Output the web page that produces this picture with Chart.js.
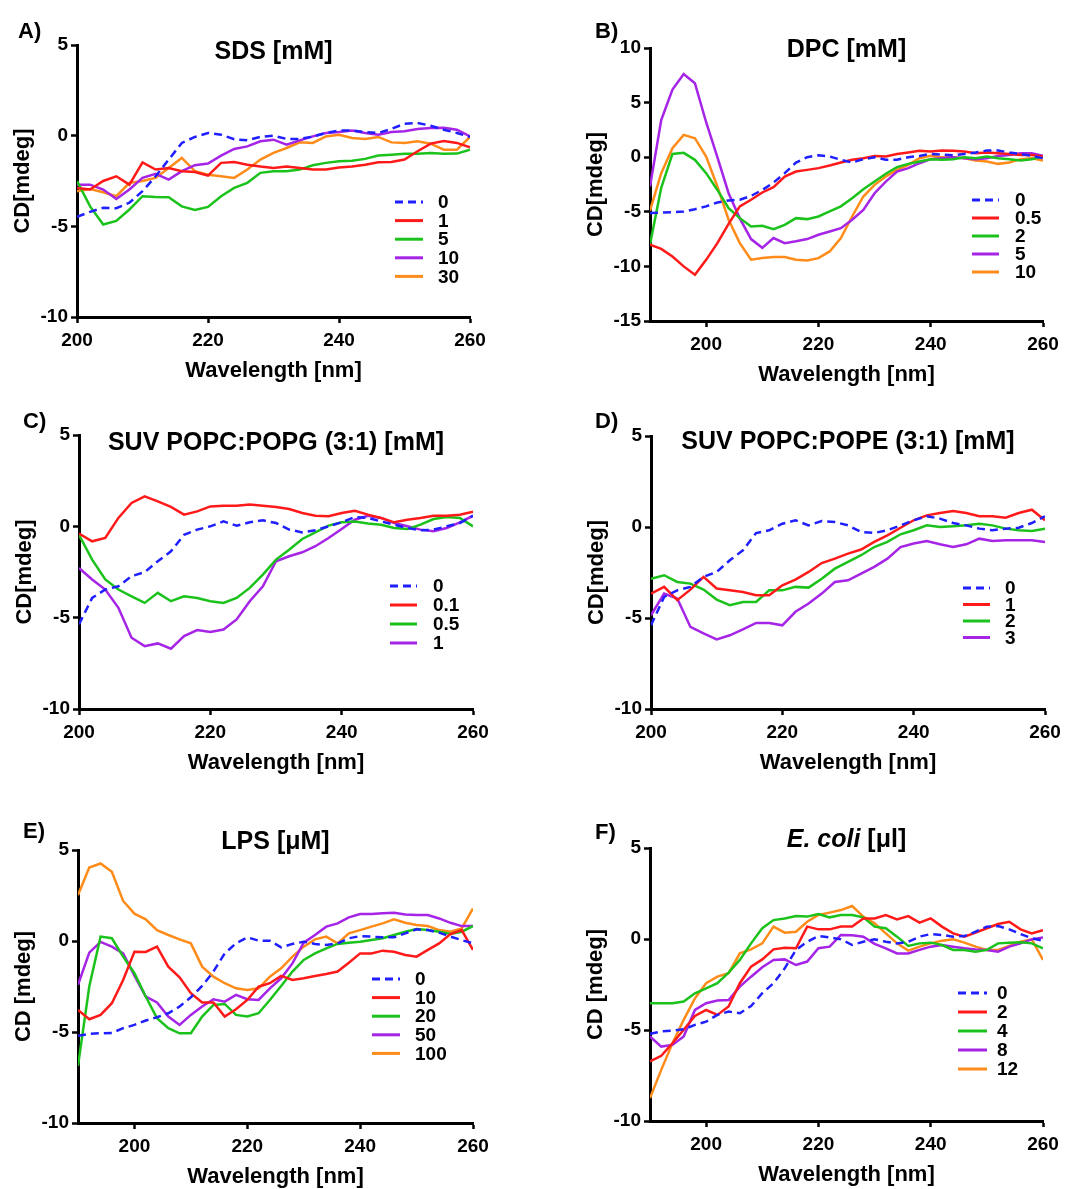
<!DOCTYPE html>
<html>
<head>
<meta charset="utf-8">
<script src="https://cdn.jsdelivr.net/npm/chart.js@4.4.1/dist/chart.umd.min.js"></script>
<style>
  body { margin: 0; background: #fff; }
  #wrap { position: relative; width: 1083px; height: 1189px; }
  canvas { position: absolute; }
</style>
</head>
<body>
<div id="wrap">
  <canvas id="cA" width="540" height="390" style="left:0;top:0"></canvas>
  <canvas id="cB" width="543" height="390" style="left:540px;top:0"></canvas>
  <canvas id="cC" width="540" height="390" style="left:0;top:390px"></canvas>
  <canvas id="cD" width="543" height="390" style="left:540px;top:390px"></canvas>
  <canvas id="cE" width="540" height="409" style="left:0;top:780px"></canvas>
  <canvas id="cF" width="543" height="409" style="left:540px;top:780px"></canvas>
</div>
<script>
// wavelengths (nm)
const wl200 = [200, 202, 204, 206, 208, 210, 212, 214, 216, 218, 220, 222, 224, 226, 228, 230,
  232, 234, 236, 238, 240, 242, 244, 246, 248, 250, 252, 254, 256, 258, 260];
const wl190 = [190, 192, 194, 196, 198, 200, 202, 204, 206, 208, 210, 212, 214, 216, 218, 220, 222, 224, 226, 228, 230,
  232, 234, 236, 238, 240, 242, 244, 246, 248, 250, 252, 254, 256, 258, 260];

const xTicks = [200, 220, 240, 260];
const yTicks = [-10, -5, 0, 5];
const yTicksDPC = [-15, -10, -5, 0, 5, 10];

// A) SDS [mM]
const sdsLabels = ['0', '1', '5', '10', '30'];
const sds0 = [-4.48, -4.2, -3.98, -4.0, -3.7, -3.06, -2.24, -1.32, -0.4, -0.07, 0.15, 0.05, -0.2, -0.25, -0.07, 0,
  -0.18, -0.18, -0.05, 0.15, 0.28, 0.28, 0.2, 0.15, 0.37, 0.66, 0.7, 0.55, 0.33, 0.15, -0.07];
const sds1 = [-2.88, -2.97, -2.5, -2.24, -2.7, -1.47, -1.87, -1.78, -1.96, -2.0, -2.2, -1.5, -1.45, -1.6, -1.7, -1.78,
  -1.7, -1.78, -1.87, -1.87, -1.75, -1.7, -1.6, -1.47, -1.45, -1.32, -0.86, -0.44, -0.3, -0.4, -0.64];
const sds5 = [-2.5, -3.9, -4.9, -4.7, -4.07, -3.34, -3.38, -3.4, -3.9, -4.1, -3.93, -3.34, -2.88, -2.6, -2.05, -1.96,
  -1.96, -1.87, -1.63, -1.5, -1.41, -1.38, -1.28, -1.1, -1.05, -1.0, -1.0, -0.95, -1.0, -0.99, -0.77];
const sds10 = [-2.7, -2.7, -2.97, -3.49, -2.97, -2.33, -2.1, -2.42, -1.96, -1.63, -1.54, -1.1, -0.73, -0.59, -0.31, -0.22,
  -0.5, -0.26, -0.04, 0.15, 0.2, 0.28, 0.15, 0.05, 0.2, 0.24, 0.37, 0.42, 0.44, 0.33, -0.04];
const sds30 = [-3.06, -2.94, -3.12, -3.34, -2.6, -2.5, -2.33, -1.78, -1.23, -1.96, -2.15, -2.24, -2.33, -1.87, -1.32, -0.95,
  -0.68, -0.37, -0.4, -0.04, 0.05, -0.13, -0.18, -0.07, -0.37, -0.4, -0.31, -0.44, -0.77, -0.77, -0.07];

// B) DPC [mM]
const dpcLabels = ['0', '0.5', '2', '5', '10'];
const dpc0 = [-5.12, -5.07, -5.03, -4.97, -4.76, -4.5, -4.15, -3.96, -3.9, -3.54, -3.0, -2.32, -1.46, -0.49, 0, 0.18,
  0.06, -0.24, -0.49, -0.18, 0, -0.24, -0.24, 0, 0.12, 0.3, 0.24, 0.18, 0.3, 0.43, 0.61, 0.61, 0.43, 0.3, 0.12, -0.09];
const dpc05 = [-8.0, -8.4, -9.1, -10.0, -10.76, -9.4, -7.87, -6.1, -4.5, -3.9, -3.23, -2.74, -1.77, -1.31, -1.16, -1.0,
  -0.76, -0.49, -0.24, -0.09, 0.12, 0.06, 0.3, 0.43, 0.58, 0.52, 0.61, 0.6, 0.52, 0.37, 0.43, 0.37, 0.3, 0.21, 0.21, 0.06];
const dpc2 = [-8.0, -2.8, 0.3, 0.4, -0.24, -1.46, -3.0, -4.66, -5.58, -6.34, -6.28, -6.6, -6.19, -5.58, -5.67, -5.43,
  -4.97, -4.5, -3.75, -2.93, -2.23, -1.52, -0.91, -0.61, -0.4, -0.18, -0.24, -0.18, 0, -0.09, 0.06, -0.09, -0.18, -0.3, -0.18, 0.06];
const dpc5 = [-2.68, 3.4, 6.2, 7.62, 6.77, 3.2, 0.0, -3.3, -5.6, -7.5, -8.3, -7.4, -7.87, -7.7, -7.5, -7.1,
  -6.8, -6.5, -5.73, -4.82, -3.3, -2.23, -1.31, -1.0, -0.55, -0.18, -0.09, 0, -0.09, -0.18, -0.09, 0.12, 0.21, 0.37, 0.37, 0.12];
const dpc10 = [-4.9, -1.46, 0.82, 2.04, 1.74, 0.06, -2.68, -5.73, -7.87, -9.39, -9.24, -9.15, -9.15, -9.39, -9.45, -9.24,
  -8.63, -7.4, -5.43, -3.6, -2.53, -1.77, -1.16, -0.7, -0.09, 0.12, 0, 0, -0.09, -0.3, -0.4, -0.61, -0.49, -0.18, -0.09, -0.3];

// C) SUV POPC:POPG (3:1) [mM]
const popgLabels = ['0', '0.1', '0.5', '1'];
const popg0 = [-5.37, -3.92, -3.46, -3.28, -2.73, -2.51, -1.91, -1.37, -0.46, -0.18, 0, 0.27, 0.04, 0.22, 0.33, 0.18,
  -0.18, -0.33, -0.22, 0, 0.22, 0.51, 0.46, 0.27, 0.09, -0.09, -0.22, -0.18, 0, 0.18, 0.58];
const popg01 = [-0.4, -0.82, -0.64, 0.46, 1.28, 1.64, 1.37, 1.06, 0.64, 0.82, 1.09, 1.13, 1.13, 1.2, 1.13, 1.06,
  0.95, 0.73, 0.58, 0.55, 0.73, 0.85, 0.64, 0.46, 0.22, 0.36, 0.46, 0.58, 0.58, 0.64, 0.8];
const popg05 = [-0.46, -1.82, -2.91, -3.46, -3.83, -4.19, -3.64, -4.1, -3.83, -3.92, -4.1, -4.19, -3.92, -3.37, -2.64, -1.82,
  -1.28, -0.69, -0.33, 0.04, 0.22, 0.26, 0.15, 0.09, -0.09, -0.15, 0.09, 0.4, 0.51, 0.46, 0];
const popg1 = [-2.28, -2.91, -3.46, -4.46, -6.1, -6.56, -6.41, -6.7, -6.01, -5.68, -5.79, -5.65, -5.1, -4.1, -3.28, -1.91,
  -1.64, -1.42, -1.09, -0.64, -0.15, 0.36, 0.58, 0.46, 0.18, 0, -0.18, -0.27, -0.09, 0.22, 0.58];

// D) SUV POPC:POPE (3:1) [mM]
const popeLabels = ['0', '1', '2', '3'];
const pope0 = [-5.4, -3.84, -3.48, -3.29, -2.74, -2.47, -1.83, -1.28, -0.33, -0.18, 0.18, 0.37, 0.09, 0.33, 0.27, 0.09,
  -0.27, -0.33, -0.18, 0.09, 0.37, 0.59, 0.46, 0.22, 0.09, -0.09, -0.18, -0.09, -0.04, 0.22, 0.59];
const pope1 = [-3.66, -3.29, -4.02, -3.44, -2.74, -3.38, -3.48, -3.57, -3.75, -3.75, -3.2, -2.89, -2.47, -1.98, -1.74, -1.46,
  -1.24, -0.82, -0.46, -0.04, 0.37, 0.64, 0.77, 0.88, 0.77, 0.59, 0.59, 0.51, 0.77, 0.95, 0.37];
const pope2 = [-2.84, -2.65, -3.02, -3.11, -3.44, -3.99, -4.3, -4.12, -4.12, -3.48, -3.48, -3.29, -3.33, -2.84, -2.29, -1.92,
  -1.55, -1.1, -0.82, -0.4, -0.18, 0.09, 0, 0.04, 0.09, 0.18, 0.09, -0.09, -0.18, -0.22, -0.09];
const pope3 = [-4.85, -3.66, -3.93, -5.49, -5.85, -6.18, -5.95, -5.63, -5.27, -5.27, -5.4, -4.66, -4.2, -3.66, -3.02, -2.93,
  -2.56, -2.19, -1.74, -1.1, -0.91, -0.77, -0.95, -1.1, -0.95, -0.64, -0.77, -0.73, -0.73, -0.73, -0.82];

// E) LPS [µM]
const lpsLabels = ['0', '10', '20', '50', '100'];
const lps0 = [-5.21, -5.1, -5.07, -5.05, -4.79, -4.61, -4.37, -4.19, -3.97, -3.6, -3.09, -2.47, -1.68, -0.68, -0.13, 0.2,
  0.02, 0.02, -0.35, -0.16, -0.04, -0.16, -0.22, -0.13, 0.15, 0.27, 0.24, 0.2, 0.2, 0.42, 0.64, 0.6, 0.46, 0.24, 0.05, -0.13];
const lps10 = [-3.79, -4.3, -4.06, -3.42, -2.14, -0.59, -0.6, -0.31, -1.41, -1.99, -2.87, -3.38, -3.38, -4.15, -3.75, -3.24,
  -2.51, -2.32, -1.92, -2.14, -2.05, -1.92, -1.81, -1.68, -1.19, -0.68, -0.68, -0.53, -0.59, -0.77, -0.86, -0.49, -0.13, 0.38, 0.6, -0.49];
const lps20 = [-6.86, -2.5, 0.24, 0.15, -0.86, -1.77, -3.05, -4.24, -4.79, -5.07, -5.07, -4.15, -3.51, -3.46, -4.06, -4.15,
  -3.97, -3.24, -2.47, -1.68, -1.04, -0.68, -0.4, -0.16, -0.09, -0.04, 0.05, 0.15, 0.33, 0.51, 0.66, 0.6, 0.51, 0.38, 0.51, 0.82];
const lps50 = [-2.41, -0.64, -0.05, -0.31, -0.68, -1.9, -3.05, -3.38, -4.15, -4.61, -4.06, -3.6, -3.2, -3.33, -2.96, -3.2,
  -3.24, -2.6, -2.05, -1.23, -0.09, 0.33, 0.79, 0.97, 1.3, 1.48, 1.48, 1.52, 1.55, 1.46, 1.43, 1.43, 1.24, 1.0, 0.82, 0.82];
const lps100 = [2.52, 4.04, 4.26, 3.8, 2.2, 1.5, 1.19, 0.6, 0.33, 0.09, -0.13, -1.41, -1.96, -2.32, -2.6, -2.69,
  -2.6, -1.96, -1.5, -0.86, -0.31, 0.09, 0.24, -0.13, 0.42, 0.6, 0.79, 0.97, 1.19, 1.0, 0.88, 0.82, 0.6, 0.51, 0.69, 1.79];

// F) E. coli [µl]
const ecoliLabels = ['0', '2', '4', '8', '12'];
const ecoli0 = [-5.21, -5.08, -5.03, -4.96, -4.72, -4.54, -4.17, -3.99, -4.08, -3.68, -2.98, -2.43, -1.61, -0.6, -0.15, 0.16,
  0.09, -0.02, -0.33, -0.15, -0.02, -0.15, -0.24, -0.15, 0.13, 0.27, 0.22, 0.13, 0.16, 0.4, 0.68, 0.71, 0.53, 0.27, 0.04, -0.09];
const ecoli2 = [-6.73, -6.42, -5.73, -4.99, -4.23, -3.9, -4.17, -3.71, -2.43, -1.52, -1.12, -0.57, -0.48, -0.51, 0.68, 0.53,
  0.53, 0.68, 0.68, 1.13, 1.13, 1.32, 1.08, 1.26, 0.9, 1.13, 0.68, 0.31, 0.13, 0.35, 0.59, 0.82, 0.95, 0.53, 0.31, 0.49];
const ecoli4 = [-3.53, -3.53, -3.53, -3.44, -2.98, -2.71, -2.43, -1.85, -1.15, -0.24, 0.59, 1.04, 1.13, 1.26, 1.23, 1.37,
  1.19, 1.32, 1.32, 1.19, 0.68, 0.59, 0.13, -0.38, -0.24, -0.2, -0.33, -0.6, -0.6, -0.7, -0.6, -0.24, -0.2, -0.18, -0.24, -0.51];
const ecoli8 = [-5.36, -5.91, -5.82, -5.36, -3.9, -3.53, -3.38, -3.35, -2.62, -2.07, -1.55, -1.15, -1.12, -1.43, -1.24, -0.51,
  -0.42, 0.22, 0.2, 0.13, -0.27, -0.51, -0.79, -0.79, -0.6, -0.42, -0.33, -0.42, -0.51, -0.57, -0.6, -0.7, -0.42, -0.24, -0.02, 0.09];
const ecoli12 = [-8.74, -7.19, -5.73, -4.44, -3.26, -2.43, -2.07, -1.88, -0.79, -0.57, -0.24, 0.68, 0.35, 0.4, 0.95, 1.32,
  1.45, 1.59, 1.81, 1.23, 0.86, 0.31, -0.24, -0.64, -0.42, -0.24, -0.09, -0.02, -0.2, -0.42, -0.6, -0.6, -0.38, -0.15, -0.02, -1.15];

const FONT = '"Liberation Sans", Arial, Helvetica, sans-serif';
const COLORS = ['#1f1fff', '#ff1a1a', '#1cc21c', '#a524e6', '#ff8c1a'];
const DASH = [8, 5];

// draws panel letter, title and legend inside each canvas
const decorPlugin = {
  id: 'decor',
  afterDraw(chart) {
    const p = chart.options.plugins.decor;
    const ctx = chart.ctx;
    const area = chart.chartArea;
    ctx.save();
    ctx.fillStyle = '#000';
    ctx.textBaseline = 'middle';

    ctx.font = 'bold 22px ' + FONT;
    ctx.textAlign = 'left';
    ctx.fillText(p.letter, p.letterX, p.letterY);

    // title (parts may be italic)
    let total = 0;
    p.title.forEach(part => {
      ctx.font = (part.italic ? 'italic ' : '') + 'bold 25px ' + FONT;
      total += ctx.measureText(part.text).width;
    });
    let x = (area.left + area.right) / 2 - total / 2;
    p.title.forEach(part => {
      ctx.font = (part.italic ? 'italic ' : '') + 'bold 25px ' + FONT;
      ctx.fillText(part.text, x, p.titleY);
      x += ctx.measureText(part.text).width;
    });

    // legend
    ctx.font = 'bold 19px ' + FONT;
    chart.data.datasets.forEach((ds, i) => {
      const y = p.legY + i * p.legGap;
      ctx.beginPath();
      ctx.strokeStyle = ds.borderColor;
      ctx.lineWidth = 3;
      ctx.setLineDash(ds.borderDash || []);
      ctx.moveTo(p.legX0, y);
      ctx.lineTo(p.legX1, y);
      ctx.stroke();
      ctx.setLineDash([]);
      ctx.fillText(ds.label, p.legText, y + 1);
    });
    ctx.restore();
  }
};

function makePanel(id, cfg) {
  const datasets = cfg.series.map((vals, i) => ({
    label: cfg.labels[i],
    data: vals.map((v, j) => ({ x: cfg.wl[j], y: v })),
    borderColor: COLORS[i],
    borderWidth: 2.5,
    borderDash: i === 0 ? DASH : [],
    pointRadius: 0,
    tension: 0,
    fill: false
  }));
  const axisGrid = { drawOnChartArea: false, tickLength: 6, tickWidth: 2.5, tickColor: '#000' };
  const axisBorder = { display: true, color: '#000', width: 3 };
  new Chart(document.getElementById(id), {
    type: 'line',
    data: { datasets },
    plugins: [decorPlugin],
    options: {
      responsive: false,
      animation: false,
      layout: { padding: cfg.pad },
      plugins: {
        legend: { display: false },
        tooltip: { enabled: false },
        decor: cfg.decor
      },
      scales: {
        x: {
          type: 'linear',
          min: cfg.wl[0],
          max: 260,
          grid: axisGrid,
          border: axisBorder,
          afterBuildTicks: s => { s.ticks = xTicks.map(v => ({ value: v })); },
          afterFit: s => { s.height = 66; },
          ticks: { color: '#000', padding: 6, maxRotation: 0, font: { family: FONT, size: 19, weight: 'bold' } },
          title: {
            display: true, text: 'Wavelength [nm]', color: '#000',
            padding: { top: 0, bottom: 1 },
            font: { family: FONT, size: 22, weight: 'bold', lineHeight: 1 }
          }
        },
        y: {
          min: cfg.yTicks[0],
          max: cfg.yTicks[cfg.yTicks.length - 1],
          grid: axisGrid,
          border: axisBorder,
          afterBuildTicks: s => { s.ticks = cfg.yTicks.map(v => ({ value: v })); },
          afterFit: s => { s.width = 77; },
          ticks: { color: '#000', padding: 3, font: { family: FONT, size: 19, weight: 'bold' } },
          title: {
            display: true, text: cfg.yTitle, color: '#000',
            padding: { top: 12, bottom: 0 },
            font: { family: FONT, size: 22, weight: 'bold', lineHeight: 1 }
          }
        }
      }
    }
  });
}

makePanel('cA', {
  wl: wl200, series: [sds0, sds1, sds5, sds10, sds30], labels: sdsLabels,
  yTicks: yTicks, yTitle: 'CD[mdeg]',
  pad: { left: 0, top: 45, right: 70, bottom: 7 },
  decor: { letter: 'A)', letterX: 18, letterY: 32, title: [{ text: 'SDS [mM]' }], titleY: 52,
    legX0: 395, legX1: 423, legText: 438, legY: 202, legGap: 18.6 }
});
makePanel('cB', {
  wl: wl190, series: [dpc0, dpc05, dpc2, dpc5, dpc10], labels: dpcLabels,
  yTicks: yTicksDPC, yTitle: 'CD[mdeg]',
  pad: { left: 33, top: 48, right: 40, bottom: 3 },
  decor: { letter: 'B)', letterX: 55, letterY: 32, title: [{ text: 'DPC [mM]' }], titleY: 50,
    legX0: 432, legX1: 459, legText: 475, legY: 200, legGap: 18 }
});
makePanel('cC', {
  wl: wl200, series: [popg0, popg01, popg05, popg1], labels: popgLabels,
  yTicks: yTicks, yTitle: 'CD[mdeg]',
  pad: { left: 2, top: 45, right: 67, bottom: 5 },
  decor: { letter: 'C)', letterX: 23, letterY: 32, title: [{ text: 'SUV POPC:POPG (3:1) [mM]' }], titleY: 53,
    legX0: 390, legX1: 417, legText: 433, legY: 196, legGap: 19 }
});
makePanel('cD', {
  wl: wl200, series: [pope0, pope1, pope2, pope3], labels: popeLabels,
  yTicks: yTicks, yTitle: 'CD[mdeg]',
  pad: { left: 34, top: 46, right: 38, bottom: 5 },
  decor: { letter: 'D)', letterX: 55, letterY: 32, title: [{ text: 'SUV POPC:POPE (3:1) [mM]' }], titleY: 52,
    legX0: 423, legX1: 450, legText: 465, legY: 198, legGap: 16.5 }
});
makePanel('cE', {
  wl: wl190, series: [lps0, lps10, lps20, lps50, lps100], labels: lpsLabels,
  yTicks: yTicks, yTitle: 'CD [mdeg]',
  pad: { left: 1, top: 70, right: 67, bottom: 0 },
  decor: { letter: 'E)', letterX: 23, letterY: 52, title: [{ text: 'LPS [μM]' }], titleY: 62,
    legX0: 372, legX1: 400, legText: 415, legY: 199, legGap: 18.6 }
});
makePanel('cF', {
  wl: wl190, series: [ecoli0, ecoli2, ecoli4, ecoli8, ecoli12], labels: ecoliLabels,
  yTicks: yTicks, yTitle: 'CD [mdeg]',
  pad: { left: 33, top: 68, right: 40, bottom: 2 },
  decor: { letter: 'F)', letterX: 55, letterY: 53, title: [{ text: 'E. coli', italic: true }, { text: ' [μl]' }], titleY: 60,
    legX0: 418, legX1: 447, legText: 457, legY: 213, legGap: 19 }
});
</script>
</body>
</html>
